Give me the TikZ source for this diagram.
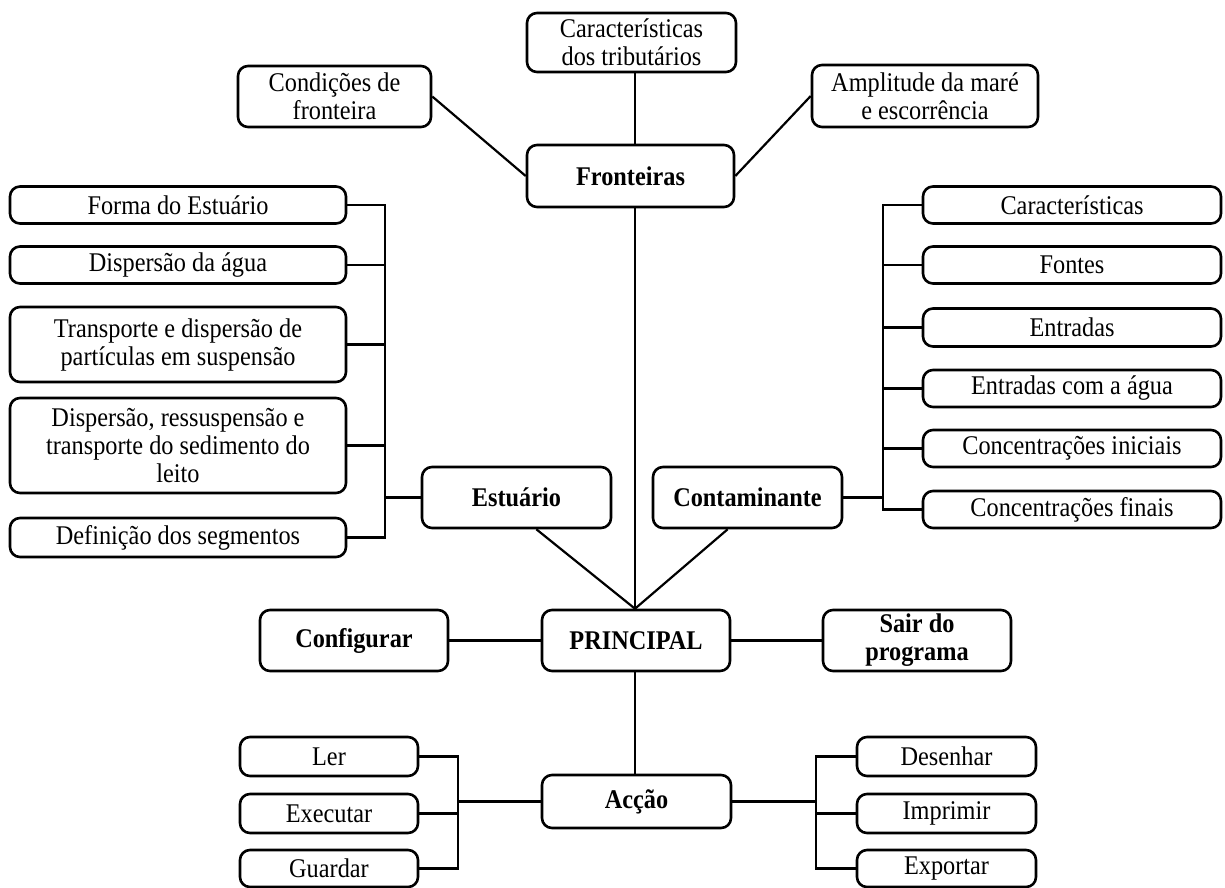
\documentclass[tikz,border=0pt]{standalone}
\usepackage{fontspec}
\setmainfont{Liberation Serif}[FakeStretch=0.9]
\begin{document}
\begin{tikzpicture}[x=1pt,y=-1pt,
  box/.style 2 args={draw, line width=2.6pt, rounded corners=10pt, align=center,
    inner sep=0pt, minimum width=#1, minimum height=#2,
    font=\fontsize{27}{28}\selectfont},
  bbox/.style 2 args={box={#1}{#2}, font=\fontsize{27}{28}\selectfont\bfseries},
  link/.style={line width=2.2pt}]
\useasboundingbox[fill=white] (0,0) rectangle (1225,887);

% top level: boundaries
\node[box={209pt}{59pt}] (trib) at (631.5,42.5) {Características\\dos tributários};
\node[box={193pt}{61pt}] (cond) at (334.5,96.5) {Condições de\\fronteira};
\node[box={226pt}{62pt}] (ampl) at (925,96) {Amplitude da maré\\e escorrência};
\node[bbox={207pt}{62pt}] (front) at (630.5,176) {Fronteiras};

% estuary branch
\node[box={336pt}{37pt}] (forma) at (178,205) {Forma do Estuário};
\node[box={336pt}{37pt}] (disp) at (178,265) {Dispersão da água};
\node[box={336pt}{75pt}] (transp) at (178,344.5) {Transporte e dispersão de\\partículas em suspensão};
\node[box={336pt}{95pt}] (dispres) at (178,445.5) {Dispersão, ressuspensão e\\transporte do sedimento do\\leito};
\node[box={336pt}{39pt}] (defin) at (178,537.5) {Definição dos segmentos};
\node[bbox={189pt}{61pt}] (estuario) at (516.5,497.5) {Estuário};

% contaminant branch
\node[box={298pt}{37pt}] (caract) at (1072,205) {Características};
\node[box={298pt}{37pt}] (fontes) at (1072,265) {Fontes};
\node[box={298pt}{38pt}] (entr) at (1072,327.5) {Entradas};
\node[box={298pt}{37pt}] (entragua) at (1072,388.5) {Entradas com a água};
\node[box={298pt}{37pt}] (conci) at (1072,448.5) {Concentrações iniciais};
\node[box={298pt}{37pt}] (concf) at (1072,509.5) {Concentrações finais};
\node[bbox={189pt}{61pt}] (contam) at (747.5,497.5) {Contaminante};

% main menu
\node[bbox={188pt}{61pt}] (config) at (354,640.5) {Configurar};
\node[bbox={188pt}{61pt}] (principal) at (636,640.5) {PRINCIPAL};
\node[bbox={188pt}{61pt}] (sair) at (917,640.5) {Sair do\\programa};

% actions
\node[bbox={189pt}{53pt}] (accao) at (636.5,801.5) {Acção};
\node[box={178pt}{39pt}] (ler) at (329,756.5) {Ler};
\node[box={178pt}{39pt}] (exec) at (329,813.5) {Executar};
\node[box={178pt}{37pt}] (guardar) at (329,868.5) {Guardar};
\node[box={179pt}{39pt}] (desenhar) at (946.5,756.5) {Desenhar};
\node[box={179pt}{39pt}] (imprimir) at (946.5,813.5) {Imprimir};
\node[box={179pt}{37pt}] (exportar) at (946.5,868.5) {Exportar};

% vertical axis and trunk positions of the bracket connectors
\coordinate (axis) at (635,0);
\coordinate (lt) at (385,0);
\coordinate (rt) at (883,0);
\coordinate (blt) at (458,0);
\coordinate (brt) at (816,0);

% boundary connectors
\draw[link] (trib.south -| axis) -- (front.north -| axis);
\draw[link] (cond.east) -- (front.west);
\draw[link] (ampl.west) -- (front.east);
\draw[link] (front.south -| axis) -- (principal.north -| axis);

% estuary bracket
\draw[link] (forma.east) -- (forma.east -| lt) -- (defin.east -| lt) -- (defin.east);
\foreach \n in {disp,transp,dispres}
  \draw[link] (\n.east) -- (\n.east -| lt);
\draw[link] (estuario.west) -- (estuario.west -| lt);

% contaminant bracket
\draw[link] (caract.west) -- (caract.west -| rt) -- (concf.west -| rt) -- (concf.west);
\foreach \n in {fontes,entr,entragua,conci}
  \draw[link] (\n.west) -- (\n.west -| rt);
\draw[link] (contam.east) -- (contam.east -| rt);

% into the main menu
\draw[link] (estuario.302) -- (principal.north -| axis);
\draw[link] (contam.238) -- (principal.north -| axis);
\draw[link] (config.east) -- (principal.west);
\draw[link] (principal.east) -- (sair.west);
\draw[link] (principal.south -| axis) -- (accao.north -| axis);

% action brackets
\draw[link] (ler.east) -- (ler.east -| blt) -- (guardar.east -| blt) -- (guardar.east);
\draw[link] (exec.east) -- (exec.east -| blt);
\draw[link] (accao.west) -- (accao.west -| blt);
\draw[link] (desenhar.west) -- (desenhar.west -| brt) -- (exportar.west -| brt) -- (exportar.west);
\draw[link] (imprimir.west) -- (imprimir.west -| brt);
\draw[link] (accao.east) -- (accao.east -| brt);
\end{tikzpicture}
\end{document}
